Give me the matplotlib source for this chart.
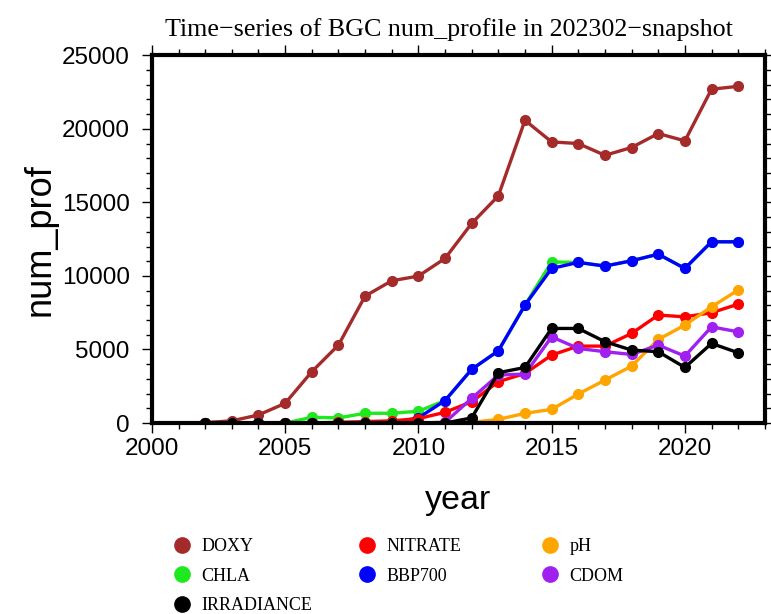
import matplotlib
matplotlib.use("Agg")
import matplotlib.pyplot as plt
from matplotlib.lines import Line2D
from matplotlib.ticker import MultipleLocator

years = list(range(2002, 2023))

doxy = [30, 150, 550, 1340, 3490, 5300, 8630, 9670, 9990, 11190, 13570,
        15440, 20580, 19110, 19000, 18200, 18730, 19680, 19180, 22690, 22890]
chla = [0, 0, 0, 0, 390, 350, 665, 665, 800, 1530, 3650,
        4910, 8020, 10950, 10920, 10670, 11030, 11480, 10510, 12320, 12320]
bbp700 = [0, 0, 0, 0, 0, 0, 0, 0, 350, 1530, 3650,
          4910, 8020, 10510, 10920, 10670, 11030, 11480, 10510, 12320, 12320]
nitrate = [0, 0, 0, 0, 0, 50, 100, 150, 300, 730, 1450,
           2810, 3370, 4620, 5230, 5230, 6090, 7340, 7220, 7500, 8080]
ph = [0, 0, 0, 0, 0, 0, 0, 0, 0, 0, 50,
      250, 660, 930, 1970, 2920, 3870, 5680, 6660, 7900, 9040]
cdom = [0, 0, 0, 0, 0, 0, 0, 0, 0, 50, 1680,
        3260, 3330, 5860, 5070, 4850, 4660, 5300, 4550, 6540, 6200]
irradiance = [0, 0, 0, 0, 0, 0, 0, 0, 0, 0, 350,
              3420, 3780, 6430, 6430, 5530, 4960, 4850, 3780, 5410, 4780]

# draw order (later on top)
series = [
    ("DOXY", doxy, "#a52a2a"),
    ("CHLA", chla, "#1ee81e"),
    ("BBP700", bbp700, "#0000ff"),
    ("NITRATE", nitrate, "#ff0000"),
    ("pH", ph, "#ffa500"),
    ("CDOM", cdom, "#a020f0"),
    ("IRRADIANCE", irradiance, "#000000"),
]
colors = {name: c for name, vals, c in series}

fig = plt.figure(figsize=(7.71, 6.14), dpi=100)
ax = fig.add_axes([0.197, 0.311, 0.795, 0.599])

for name, vals, c in series:
    ax.plot(years, vals, color=c, lw=2.4, marker="o", ms=7, label=name)

ax.set_xlim(2000, 2023)
ax.set_ylim(0, 25000)
ax.xaxis.set_major_locator(MultipleLocator(5))
ax.xaxis.set_minor_locator(MultipleLocator(1))
ax.yaxis.set_major_locator(MultipleLocator(5000))
ax.yaxis.set_minor_locator(MultipleLocator(1000))
ax.tick_params(which="both", direction="out", top=True, right=True,
               width=1, labelsize=17.5)
ax.tick_params(which="major", length=7)
ax.tick_params(which="minor", length=4)
ax.tick_params(axis="y", which="major", pad=9)
for lab in ax.get_xticklabels() + ax.get_yticklabels():
    lab.set_family("Liberation Sans")
for sp in ax.spines.values():
    sp.set_linewidth(3)

ax.set_xlabel("year", fontsize=24.5, family="Liberation Sans", labelpad=18)
ax.set_ylabel("num_prof", fontsize=26, family="Liberation Sans", labelpad=3)
ax.set_title("Time\u2212series of BGC num_profile in 202302\u2212snapshot",
             fontsize=18.75, family="Liberation Serif", pad=14, x=0.4845)

# legend: three fixed-width columns, GMT style
cols = [["DOXY", "CHLA", "IRRADIANCE"], ["NITRATE", "BBP700"], ["pH", "CDOM"]]
xpos = [0.2218, 0.4618, 0.699]
for names, x in zip(cols, xpos):
    handles = [Line2D([], [], ls="none", marker="o", ms=11,
                      color=colors[n]) for n in names]
    fig.legend(handles, names, loc="upper left", bbox_to_anchor=(x, 0.124),
               frameon=False, handletextpad=0.5, handlelength=1.2,
               labelspacing=0.70, borderpad=0, borderaxespad=0,
               prop={"family": "Liberation Serif", "size": 13})

fig.savefig("out.png", dpi=100)
